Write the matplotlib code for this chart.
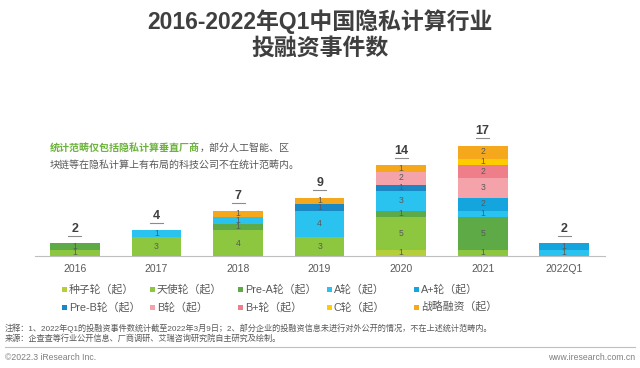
import matplotlib
matplotlib.use("Agg")
import matplotlib.pyplot as plt
from matplotlib.patches import Rectangle
from matplotlib.lines import Line2D
import numpy as np

plt.rcParams['font.family'] = ['Liberation Sans', 'Noto Sans CJK SC', 'DejaVu Sans']

years = ["2016", "2017", "2018", "2019", "2020", "2021", "2022Q1"]
rounds = ["种子轮（起）", "天使轮（起）", "Pre-A轮（起）", "A轮（起）", "A+轮（起）",
          "Pre-B轮（起）", "B轮（起）", "B+轮（起）", "C轮（起）", "战略融资（起）"]
seed = [0, 0, 0, 0, 1, 0, 0]
angel = [1, 3, 4, 3, 5, 1, 0]
pre_a = [1, 0, 1, 0, 1, 5, 0]
round_a = [0, 1, 1, 4, 3, 1, 1]
round_a_plus = [0, 0, 0, 0, 0, 2, 1]
pre_b = [0, 0, 0, 1, 1, 0, 0]
round_b = [0, 0, 0, 0, 2, 3, 0]
round_b_plus = [0, 0, 0, 0, 0, 2, 0]
round_c = [0, 0, 0, 0, 0, 1, 0]
strategic = [0, 0, 1, 1, 1, 2, 0]
series = [seed, angel, pre_a, round_a, round_a_plus, pre_b, round_b, round_b_plus, round_c, strategic]
colors = ["#B5CF3A", "#8DC63F", "#5DAA46", "#2AC2EE", "#14A5DE",
          "#1A88C4", "#F4A3AB", "#EE7F8A", "#FFCC00", "#F6A81C"]

W, H = 640, 368
fig = plt.figure(figsize=(6.4, 3.68), dpi=100)
fig.patch.set_facecolor("white")

# bar area: baseline at y=256px, 6.5 px per unit
ax = fig.add_axes([35 / W, (H - 256) / H, 570 / W, 130 / H])
x = np.arange(len(years))
bottom = np.zeros(len(years))
for vals, col in zip(series, colors):
    vals = np.array(vals)
    ax.bar(x, vals, 0.61, bottom=bottom, color=col, linewidth=0)
    for xi, v, b in zip(x, vals, bottom):
        if v > 0:
            ax.text(xi, b + v / 2, str(v), ha="center", va="center",
                    fontsize=6.2, color="#5a5a5a")
    bottom += vals

for xi, tot in zip(x, bottom):
    ax.text(xi, tot + 1.3, str(int(tot)), ha="center", va="bottom",
            fontsize=9, fontweight="bold", color="#3f3f3f")
    ax.plot([xi - 0.08, xi + 0.08], [tot + 1.1, tot + 1.1], color="#8c8c8c", lw=0.8)

ax.set_xlim(-0.49, 6.5)
ax.set_ylim(0, 20)
ax.set_xticks(x)
ax.set_xticklabels(years, fontsize=7.5, color="#595959")
ax.tick_params(axis="x", length=0, pad=6)
ax.set_yticks([])
for s in ["top", "right", "left"]:
    ax.spines[s].set_visible(False)
ax.spines["bottom"].set_color("#bfbfbf")
ax.spines["bottom"].set_linewidth(0.8)

# title
fig.text(0.5, 1 - 22 / H, "2016-2022年Q1中国隐私计算行业", ha="center", va="center",
         fontsize=16.5, fontweight="bold", color="#3f3f3f")
fig.text(0.5, 1 - 48 / H, "投融资事件数", ha="center", va="center",
         fontsize=16.5, fontweight="bold", color="#3f3f3f")

# note inside chart
renderer = fig.canvas.get_renderer()
t1 = fig.text(50 / W, 1 - 148 / H, "统计范畴仅包括隐私计算垂直厂商", ha="left", va="center",
              fontsize=7.2, fontweight="bold", color="#6BB33A")
bb = t1.get_window_extent(renderer)
fig.text(bb.x1 / W, 1 - 148 / H, "，部分人工智能、区", ha="left", va="center",
         fontsize=7.2, color="#595959")
fig.text(50 / W, 1 - 165 / H, "块链等在隐私计算上有布局的科技公司不在统计范畴内。", ha="left", va="center",
         fontsize=7.2, color="#595959")

# legend grid
col_x = [62, 150, 238, 327, 414]
row_y = [289, 307]
for i, (name, col) in enumerate(zip(rounds, colors)):
    cx = col_x[i % 5]
    cy = row_y[i // 5]
    fig.patches.append(Rectangle((cx / W, (H - cy - 2.5) / H), 5 / W, 5 / H,
                                 transform=fig.transFigure, color=col, linewidth=0))
    fig.text((cx + 7) / W, 1 - cy / H, name, ha="left", va="center",
             fontsize=7.8, color="#595959")

# footnotes
fig.text(5 / W, 1 - 328 / H,
         "注释：1、2022年Q1的投融资事件数统计截至2022年3月9日；2、部分企业的投融资信息未进行对外公开的情况，不在上述统计范畴内。",
         ha="left", va="center", fontsize=5.9, color="#595959")
fig.text(5 / W, 1 - 339 / H, "来源：企查查等行业公开信息、厂商调研、艾瑞咨询研究院自主研究及绘制。",
         ha="left", va="center", fontsize=5.9, color="#595959")
fig.lines.append(Line2D([5 / W, 635 / W], [1 - 347 / H, 1 - 347 / H],
                        transform=fig.transFigure, color="#bfbfbf", lw=0.8))
fig.text(5 / W, 1 - 357 / H, "©2022.3 iResearch Inc.", ha="left", va="center",
         fontsize=6.2, color="#7f7f7f")
fig.text(635 / W, 1 - 357 / H, "www.iresearch.com.cn", ha="right", va="center",
         fontsize=6.2, color="#7f7f7f")

fig.savefig("out.png", dpi=100)
